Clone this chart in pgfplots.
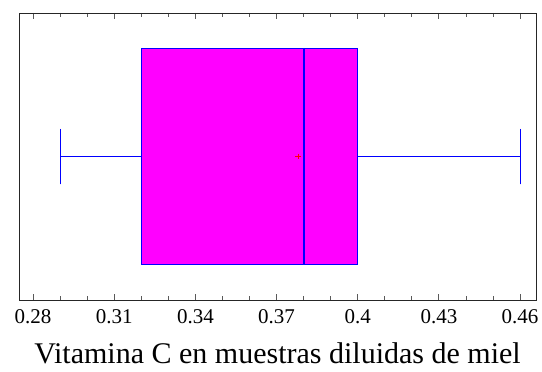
\documentclass[border=0pt]{standalone}
\usepackage{pgfplots}
\pgfplotsset{compat=1.18}
\usepgfplotslibrary{statistics}
\usepackage{fontspec}
\setmainfont{Liberation Serif}
\definecolor{boxmag}{RGB}{255,0,255}
\definecolor{boxblue}{RGB}{0,0,255}
\definecolor{meanred}{RGB}{255,0,0}
\begin{document}
\begin{tikzpicture}
\useasboundingbox (-19pt,-72pt) rectangle (523pt,300pt);
\begin{axis}[
  scale only axis, width=517pt, height=287pt,
  xmin=0.2748, xmax=0.4659, ymin=0, ymax=2,
  ytick=\empty,
  xtick={0.28,0.31,0.34,0.37,0.4,0.43,0.46},
  xticklabels={0.28,0.31,0.34,0.37,0.4,0.43,0.46},
  minor x tick num=2,
  tick align=inside,
  major tick length=6pt, minor tick length=4pt,
  every tick/.style={gray!70!black, line width=0.8pt},
  axis line style={black!85, line width=0.8pt},
  ticklabel style={font=\fontsize{21}{23}\selectfont},
  xticklabel style={yshift=-6pt},
  xlabel={Vitamina C en muestras diluidas de miel},
  xlabel style={font=\fontsize{30}{32}\selectfont, yshift=-12pt},
  boxplot/every box/.style={draw=boxblue, fill=boxmag, line width=0.9pt},
  boxplot/every whisker/.style={draw=boxblue, line width=0.9pt},
]
\addplot[boxplot prepared={
    lower whisker=0.29, lower quartile=0.32, median=0.38,
    upper quartile=0.40, upper whisker=0.46,
    draw position=1, box extend=1.505, whisker extend=0.39},
  draw=boxblue, fill=boxmag, solid, line width=0.9pt, mark=none]
  coordinates {};
\addplot[boxblue, line width=1.8pt, mark=none] coordinates {(0.38,0.2475) (0.38,1.7525)};
\addplot[only marks, mark=+, meanred, mark size=2.8pt, line width=1pt] coordinates {(0.378,1)};
\end{axis}
\end{tikzpicture}
\end{document}
